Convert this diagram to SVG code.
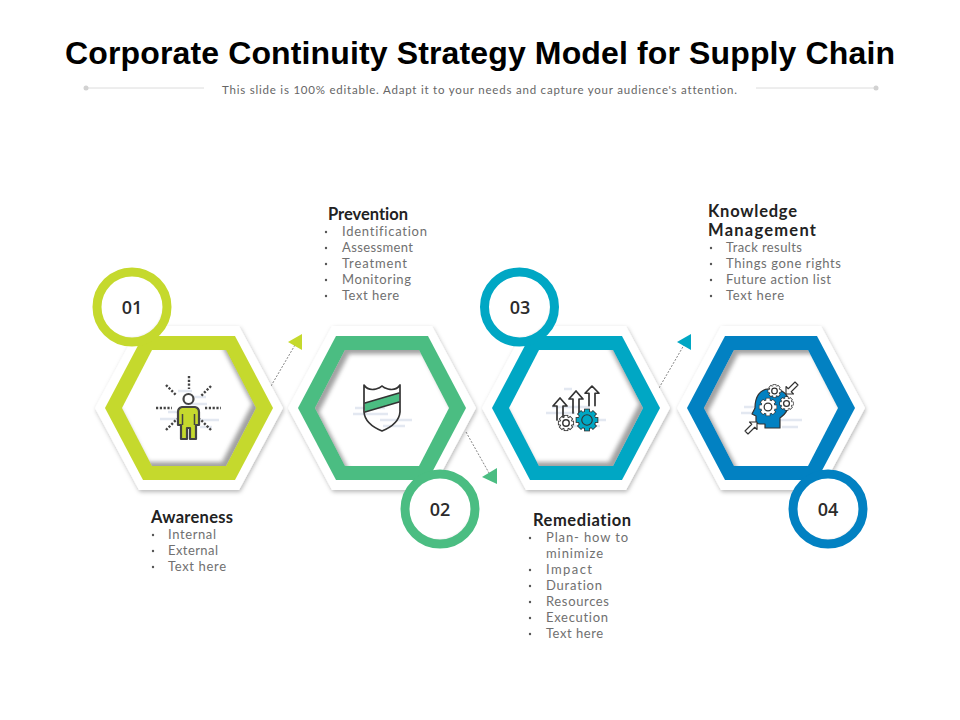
<svg xmlns="http://www.w3.org/2000/svg" xmlns:xlink="http://www.w3.org/1999/xlink" width="960" height="720" viewBox="0 0 960 720">
<style>
text{font-family:"Lato","Liberation Sans",sans-serif;font-variant-ligatures:none}
.t{font-family:"Liberation Sans",sans-serif;font-size:32px;font-weight:700;fill:#000}
.s{font-size:11.5px;fill:#666}
.h{font-size:16.5px;font-weight:700;fill:#222}
.b{font-size:13px;fill:#707070}
.n{font-family:"Open Sans","Liberation Sans",sans-serif;font-size:18px;font-weight:600;fill:#2b2b2b;text-anchor:middle}
.dot{fill:#555}
.conn{stroke:#666;stroke-width:.8;stroke-dasharray:2 1.5;fill:none}
.ln{stroke:#333;stroke-width:1.7;fill:none;stroke-linejoin:round;stroke-linecap:round}
.ar{stroke:#333;stroke-width:1.5;fill:#fff;stroke-linejoin:round}
.ray{stroke:#444;stroke-width:2.4;stroke-dasharray:2.2 1.6;fill:none}
.f{stroke:#e3e8f1;stroke-width:2.5;fill:none}
.sh{fill:#555;opacity:.55}
</style>
<defs>
<polygon id="hexO" points="-94,0 -50,-82 50,-82 94,0 50,82 -50,82"/>
<polygon id="hexC" points="-84,0 -46,-72 46,-72 84,0 46,72 -46,72"/>
<polygon id="hexI" points="-67,0 -37,-58 37,-58 67,0 37,58 -37,58"/>
<path id="hexS" fill-rule="evenodd" d="M-130,-130H130V130H-130ZM-67,0 -37,-58H37L67,0 37,58H-37Z"/>
<clipPath id="clipI"><use xlink:href="#hexI"/></clipPath>
<filter id="ds" x="-20%" y="-20%" width="140%" height="140%"><feDropShadow dx="1" dy="2" stdDeviation="2" flood-color="#000" flood-opacity=".28"/></filter>
<filter id="bl" x="-20%" y="-20%" width="140%" height="140%"><feGaussianBlur stdDeviation="2"/></filter>
<radialGradient id="cg" cx="48%" cy="47%" r="54%"><stop offset="82%" stop-color="#fff"/><stop offset="100%" stop-color="#cfcfcf"/></radialGradient>
<g id="gear"><circle r="8"/><rect x="-10" y="-2" width="20" height="4"/><rect x="-10" y="-2" width="20" height="4" transform="rotate(45)"/><rect x="-10" y="-2" width="20" height="4" transform="rotate(90)"/><rect x="-10" y="-2" width="20" height="4" transform="rotate(135)"/></g>
<path id="upArrow" d="M-3,22V8H-7L0,0 7,8H3V22"/>
<path id="diagArrow" d="M-8,2 -8,-8 2,-8 -1,-5 8,4 4,8 -5,-1Z"/>
</defs>
<rect width="960" height="720" fill="#fff"/>
<g id="title">
<text class="t" x="65" y="64" textLength="830" lengthAdjust="spacing">Corporate Continuity Strategy Model for Supply Chain</text>
<text class="s" x="222" y="94" textLength="515" lengthAdjust="spacing">This slide is 100% editable. Adapt it to your needs and capture your audience's attention.</text>
<path d="M86,88H204M756,88H875" stroke="#dcdcdc" stroke-width="1"/>
<circle cx="86" cy="88" r="2.5" fill="#d2d2d2"/><circle cx="876" cy="88" r="2.5" fill="#d2d2d2"/>
</g>

<g id="connectors">
<path class="conn" d="M271,386 295,345"/><polygon points="288,342 302,334 302,350" fill="#C5D92D"/>
<path class="conn" d="M466,432 489,473"/><polygon points="482,477 497,468 497,484" fill="#4BBD82"/>
<path class="conn" d="M659,388 684,345"/><polygon points="677,342 691,334 691,350" fill="#00A7C4"/>
</g>

<g id="node-1" transform="translate(189,408)">
<use xlink:href="#hexO" fill="#fff" filter="url(#ds)"/><use xlink:href="#hexC" fill="#C5D92D"/><use xlink:href="#hexI" fill="#fff"/>
<g clip-path="url(#clipI)"><use xlink:href="#hexS" class="sh" transform="translate(-4,-4)" filter="url(#bl)"/></g>
</g>
<g id="node-2" transform="translate(382,408)">
<use xlink:href="#hexO" fill="#fff" filter="url(#ds)"/><use xlink:href="#hexC" fill="#4BBD82"/><use xlink:href="#hexI" fill="#fff"/>
<g clip-path="url(#clipI)"><use xlink:href="#hexS" class="sh" transform="translate(4,4)" filter="url(#bl)"/></g>
</g>
<g id="node-3" transform="translate(576,408)">
<use xlink:href="#hexO" fill="#fff" filter="url(#ds)"/><use xlink:href="#hexC" fill="#00A7C4"/><use xlink:href="#hexI" fill="#fff"/>
<g clip-path="url(#clipI)"><use xlink:href="#hexS" class="sh" transform="translate(-4,-4)" filter="url(#bl)"/></g>
</g>
<g id="node-4" transform="translate(771,408)">
<use xlink:href="#hexO" fill="#fff" filter="url(#ds)"/><use xlink:href="#hexC" fill="#0281C2"/><use xlink:href="#hexI" fill="#fff"/>
<g clip-path="url(#clipI)"><use xlink:href="#hexS" class="sh" transform="translate(4,4)" filter="url(#bl)"/></g>
</g>

<g id="icon-1">
<path class="f" d="M178,391H192M190,397H206M185,404H207M168,412H200M160,419H190M200,420H219M200,427H212"/>
<path class="ray" d="M189,376V389M166,385 176,395M211,386 201,396M156,408H172M205,408H221M166,430 177,419M211,430 200,419"/>
<circle cx="188.500" cy="399" r="5" fill="#fff" stroke="#444" stroke-width="2.200"/>
<path d="M182,407H195Q199,408 199,412V425H196V439H190V428H187V439H181V425H178V412Q178,408 182,407Z" fill="#C5D92D" stroke="#444" stroke-width="2.200" stroke-linejoin="round"/>
<path d="M182.500,414V425M194.500,414V425" stroke="#444" stroke-width="1.500"/>
</g>
<g id="icon-2">
<path class="f" d="M355,408H385M353,414H388M380,420H412M383,426H405"/>
<path d="M365,403 399,393V402L365,412Z" fill="#4BBD82"/>
<path class="ln" d="M364,385Q368,391 376,389 380,388 382,386 384,388 388,389 396,391 400,385V412Q399,424 382,431 365,424 364,412Z"/>
<path class="ln" d="M365,403 399,393M365,412 399,402"/>
</g>
<g id="icon-3">
<path class="f" d="M564,389H572M552,407H590M546,413H575M590,420H606M565,426H600"/>
<use xlink:href="#upArrow" class="ln" transform="translate(560,398)"/>
<use xlink:href="#upArrow" class="ln" transform="translate(576,391)"/>
<use xlink:href="#upArrow" class="ln" transform="translate(592,386) scale(1,.9)"/>
<g transform="translate(566,423) scale(.72)"><use xlink:href="#gear" stroke="#333" stroke-width="2.400" fill="#333"/><use xlink:href="#gear" fill="#fff"/><circle r="4.500" fill="none" stroke="#333" stroke-width="2"/></g>
<g transform="translate(587,420) scale(1.050)"><use xlink:href="#gear" stroke="#333" stroke-width="1.600" fill="#333"/><use xlink:href="#gear" fill="#00A7C4"/><circle r="5" fill="none" stroke="#333" stroke-width="1.100"/></g>
</g>
<g id="icon-4">
<path class="f" d="M744,407H760M741,413H762M780,420H802M782,427H798"/>
<path d="M771,389C759,388 755,398 755,408L752,414 756,416V421Q756,424 760,424H765V428H780V418C786,414 790,408 788,398 786,392 780,389 771,389Z" fill="#0281C2" stroke="#333" stroke-width="1.200" stroke-linejoin="round"/>
<g transform="translate(768,407) scale(.85)"><use xlink:href="#gear" stroke="#333" stroke-width="1.500" fill="#333"/><use xlink:href="#gear" fill="#fff"/><circle r="4.500" fill="#fff" stroke="#333" stroke-width="1.500"/></g>
<g transform="translate(774.500,391) scale(.62)"><use xlink:href="#gear" stroke="#333" stroke-width="2" fill="#333"/><use xlink:href="#gear" fill="#fff"/><circle r="4.500" fill="#fff" stroke="#333" stroke-width="2"/></g>
<g transform="translate(786.500,403.500) scale(.65)"><use xlink:href="#gear" stroke="#333" stroke-width="2" fill="#333"/><use xlink:href="#gear" fill="#fff"/><circle r="4.500" fill="#fff" stroke="#333" stroke-width="2"/></g>
<use xlink:href="#diagArrow" class="ar" transform="translate(792,388) rotate(-90) scale(.75)"/>
<use xlink:href="#diagArrow" class="ar" transform="translate(751,428) rotate(90) scale(.75)"/>
</g>

<g id="badge-1"><circle cx="132" cy="307" r="35" fill="url(#cg)" stroke="#C5D92D" stroke-width="9"/><text class="n" x="132" y="313.500">01</text></g>
<g id="badge-2"><circle cx="440" cy="509" r="35" fill="url(#cg)" stroke="#4BBD82" stroke-width="9"/><text class="n" x="440" y="515.500">02</text></g>
<g id="badge-3"><circle cx="519.500" cy="307" r="35" fill="url(#cg)" stroke="#00A7C4" stroke-width="9"/><text class="n" x="520" y="313.500">03</text></g>
<g id="badge-4"><circle cx="828" cy="509" r="35" fill="url(#cg)" stroke="#0281C2" stroke-width="9"/><text class="n" x="828" y="515.500">04</text></g>

<g id="label-prevention">
<text class="h" x="328" y="220" textLength="80">Prevention</text>
<text class="b" x="342" y="236" textLength="85">Identification</text>
<text class="b" x="342" y="252" textLength="71">Assessment</text>
<text class="b" x="342" y="268" textLength="65">Treatment</text>
<text class="b" x="342" y="284" textLength="69">Monitoring</text>
<text class="b" x="342" y="300" textLength="57">Text here</text>
<g class="dot"><circle cx="326" cy="232" r="1.200"/><circle cx="326" cy="248" r="1.200"/><circle cx="326" cy="264" r="1.200"/><circle cx="326" cy="280" r="1.200"/><circle cx="326" cy="296" r="1.200"/></g>
</g>
<g id="label-knowledge">
<text class="h" x="708" y="217" textLength="89">Knowledge</text>
<text class="h" x="708" y="236" textLength="108">Management</text>
<text class="b" x="726" y="252" textLength="76">Track results</text>
<text class="b" x="726" y="268" textLength="115">Things gone rights</text>
<text class="b" x="726" y="284" textLength="105">Future action list</text>
<text class="b" x="726" y="300" textLength="58">Text here</text>
<g class="dot"><circle cx="711" cy="248" r="1.200"/><circle cx="711" cy="264" r="1.200"/><circle cx="711" cy="280" r="1.200"/><circle cx="711" cy="296" r="1.200"/></g>
</g>
<g id="label-awareness">
<text class="h" x="151" y="523" textLength="82">Awareness</text>
<text class="b" x="168" y="539" textLength="48">Internal</text>
<text class="b" x="168" y="555" textLength="50">External</text>
<text class="b" x="168" y="571" textLength="58">Text here</text>
<g class="dot"><circle cx="153" cy="535" r="1.200"/><circle cx="153" cy="551" r="1.200"/><circle cx="153" cy="567" r="1.200"/></g>
</g>
<g id="label-remediation">
<text class="h" x="533" y="526" textLength="98">Remediation</text>
<text class="b" x="546" y="542" textLength="82">Plan- how to</text>
<text class="b" x="546" y="558" textLength="57">minimize</text>
<text class="b" x="546" y="574" textLength="46">Impact</text>
<text class="b" x="546" y="590" textLength="56">Duration</text>
<text class="b" x="546" y="606" textLength="63">Resources</text>
<text class="b" x="546" y="622" textLength="62">Execution</text>
<text class="b" x="546" y="638" textLength="57">Text here</text>
<g class="dot"><circle cx="530" cy="538" r="1.200"/><circle cx="530" cy="570" r="1.200"/><circle cx="530" cy="586" r="1.200"/><circle cx="530" cy="602" r="1.200"/><circle cx="530" cy="618" r="1.200"/><circle cx="530" cy="634" r="1.200"/></g>
</g>
</svg>
